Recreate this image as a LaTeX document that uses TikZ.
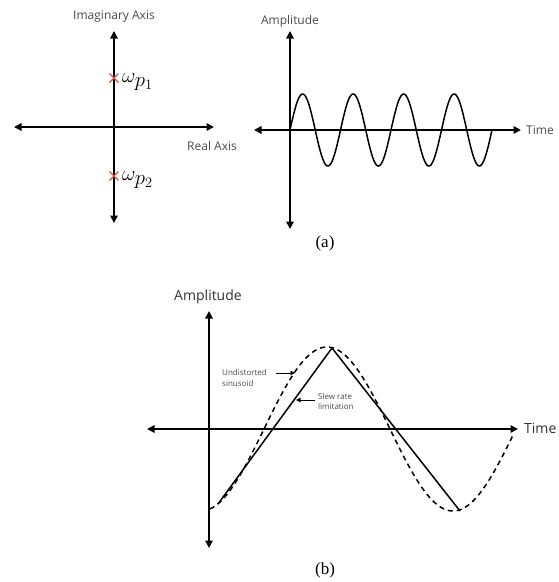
\documentclass[tikz,border=0pt]{standalone}
\usepackage{fontspec}
\setsansfont{Open Sans}
\setmainfont{Liberation Serif}
\usetikzlibrary{arrows.meta,calc}
\definecolor{labelgray}{HTML}{4A4A4A}
\definecolor{polered}{HTML}{D9534F}
\tikzset{
  axis/.style={line width=1.6pt,{Triangle[length=7.5pt,width=7.5pt]}-{Triangle[length=7.5pt,width=7.5pt]}},
  curve/.style={line width=1.5pt},
  dcurve/.style={line width=1.5pt,dash pattern=on 5pt off 4pt},
  lbl/.style={font=\sffamily\fontsize{12}{14}\selectfont,text=labelgray,inner sep=0pt},
  biglbl/.style={font=\sffamily\fontsize{14}{16}\selectfont,text=black!80,inner sep=0pt},
  small/.style={font=\sffamily\fontsize{8}{10.5}\selectfont,text=labelgray,inner sep=0pt,align=left},
  captext/.style={font=\fontsize{17}{19}\selectfont,inner sep=0pt},
  pole/.style={draw=polered,line width=1.4pt},
  omlbl/.style={anchor=west,inner sep=0pt,font=\fontsize{21}{23}\selectfont},
  pointer/.style={line width=0.9pt,-{Triangle[length=4.5pt,width=4.5pt]}}
}
\begin{document}
\begin{tikzpicture}[x=1pt,y=-1pt]
\useasboundingbox (0,0) rectangle (559,582);
% ---------- (a) left: pole plot
\coordinate (iT) at (114,31);
\coordinate (iB) at (114,223);
\coordinate (rL) at (14,127);
\coordinate (rR) at (214,127);
\draw[axis] (iB) -- (iT);
\draw[axis] (rL) -- (rR);
\node[lbl] (imag) at (114,17) {Imaginary Axis};
\node[lbl,anchor=west] (real) at (187,146) {Real Axis};
\coordinate (p1) at (114,78);
\coordinate (p2) at (114,176);
\draw[pole] ($(p1)+(-4.5,-4.5)$) -- ($(p1)+(4.5,4.5)$) ($(p1)+(-4.5,4.5)$) -- ($(p1)+(4.5,-4.5)$);
\draw[pole] ($(p2)+(-4.5,-4.5)$) -- ($(p2)+(4.5,4.5)$) ($(p2)+(-4.5,4.5)$) -- ($(p2)+(4.5,-4.5)$);
\node[omlbl] (w1) at (122,82) {$\omega_{\textstyle p_{\scriptstyle 1}}$};
\node[omlbl] (w2) at (122,180) {$\omega_{\textstyle p_{\scriptstyle 2}}$};
% ---------- (a) right: sinusoid
\coordinate (aT) at (290,31);
\coordinate (aB) at (290,229);
\coordinate (tL) at (254,130);
\coordinate (tR) at (521,130);
\draw[axis] (aB) -- (aT);
\draw[axis] (tL) -- (tR);
\node[lbl] (amp1) at (290,21) {Amplitude};
\node[lbl,anchor=west] (time1) at (526,130) {Time};
\draw[curve,domain=0:202,samples=200,smooth] plot ({290+\x},{130-36*sin(\x*7.1287)});
\node[captext] (capa) at (325,243) {(a)};
% ---------- (b) slew rate
\coordinate (bT) at (209,311);
\coordinate (bB) at (209,548);
\coordinate (bL) at (147,429);
\coordinate (bR) at (518,429);
\draw[axis] (bB) -- (bT);
\draw[axis] (bL) -- (bR);
\node[biglbl] (amp2) at (208,297) {Amplitude};
\node[biglbl,anchor=west] (time2) at (524,428) {Time};
\draw[dcurve,domain=-117:186,samples=200,smooth] plot ({327+\x},{429-82*cos(\x*1.4286)});
\coordinate (s0) at (218,504);
\coordinate (s1) at (332,348);
\coordinate (s2) at (460,511);
\draw[curve,line join=miter] (s0) -- (s1) -- (s2);
\node[small,anchor=west] (und) at (222,378) {Undistorted\\sinusoid};
\coordinate (undTip) at (295,373);
\draw[pointer] (276,373) -- (undTip);
\node[small,anchor=west] (slew) at (318,401.5) {Slew rate\\limitation};
\coordinate (slewTip) at (296,400);
\draw[pointer] (315,400) -- (slewTip);
\node[captext] (capb) at (325,570) {(b)};
\end{tikzpicture}
\end{document}
